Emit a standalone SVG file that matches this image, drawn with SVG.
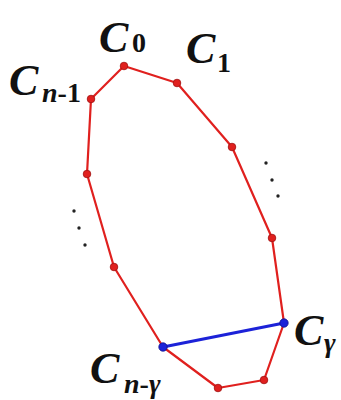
<svg xmlns="http://www.w3.org/2000/svg" width="341" height="400" viewBox="0 0 341 400">
<style>
.lbl{font-family:"Liberation Serif","Times New Roman",serif;font-weight:bold;fill:#111}
.big{font-size:44px;font-style:italic}
.sub{font-size:28px}
.it{font-style:italic}
.edge{stroke:#e0201e;stroke-width:2.2;fill:none;stroke-linejoin:round}
.chord{stroke:#1c22d8;stroke-width:3;fill:none}
.v{fill:#e0201e;stroke:#a01010;stroke-width:0.8}
.vb{fill:#1c22d8;stroke:#10108a;stroke-width:0.8}
.dot{fill:#222}
</style>
<rect width="341" height="400" fill="#fff"/>
<g id="connectors">
<polyline class="edge" points="124,66 177,83 232,147 272,238 284,323 264,380 218,388 163,347 114,267 87,174 91,99 124,66"/>
<line class="chord" x1="163" y1="347" x2="284" y2="323"/>
</g>
<g id="C0"><circle class="v" cx="124" cy="66" r="3.8"/><text class="lbl" y="52"><tspan class="big" x="99">C</tspan><tspan class="sub" x="132">0</tspan></text></g>
<g id="C1"><circle class="v" cx="177" cy="83" r="3.8"/><text class="lbl" y="63"><tspan class="big" x="186">C</tspan><tspan class="sub" x="217" y="72">1</tspan></text></g>
<g id="v2"><circle class="v" cx="232" cy="147" r="3.8"/></g>
<g id="v3"><circle class="v" cx="272" cy="238" r="3.8"/></g>
<g id="Cgamma"><circle class="vb" cx="284" cy="323" r="4.2"/><text class="lbl" y="345"><tspan class="big" x="294">C</tspan></text><text class="lbl sub it" x="324" y="352">γ</text></g>
<g id="v5"><circle class="v" cx="264" cy="380" r="3.8"/></g>
<g id="v6"><circle class="v" cx="218" cy="388" r="3.8"/></g>
<g id="Cngamma"><circle class="vb" cx="163" cy="347" r="4.2"/><text class="lbl" y="383"><tspan class="big" x="90">C</tspan><tspan class="sub" x="124" y="393"><tspan class="it">n</tspan>-<tspan class="it">γ</tspan></tspan></text></g>
<g id="v8"><circle class="v" cx="114" cy="267" r="3.8"/></g>
<g id="v9"><circle class="v" cx="87" cy="174" r="3.8"/></g>
<g id="Cn1"><circle class="v" cx="91" cy="99" r="3.8"/><text class="lbl" y="95"><tspan class="big" x="9">C</tspan><tspan class="sub" x="42" y="102"><tspan class="it">n</tspan>-1</tspan></text></g>
<g id="dotsL"><circle class="dot" cx="74" cy="211" r="1.7"/><circle class="dot" cx="79" cy="228" r="1.7"/><circle class="dot" cx="85" cy="245" r="1.7"/></g>
<g id="dotsR"><circle class="dot" cx="266" cy="163" r="1.7"/><circle class="dot" cx="272" cy="180" r="1.7"/><circle class="dot" cx="278" cy="196" r="1.7"/></g>
</svg>
